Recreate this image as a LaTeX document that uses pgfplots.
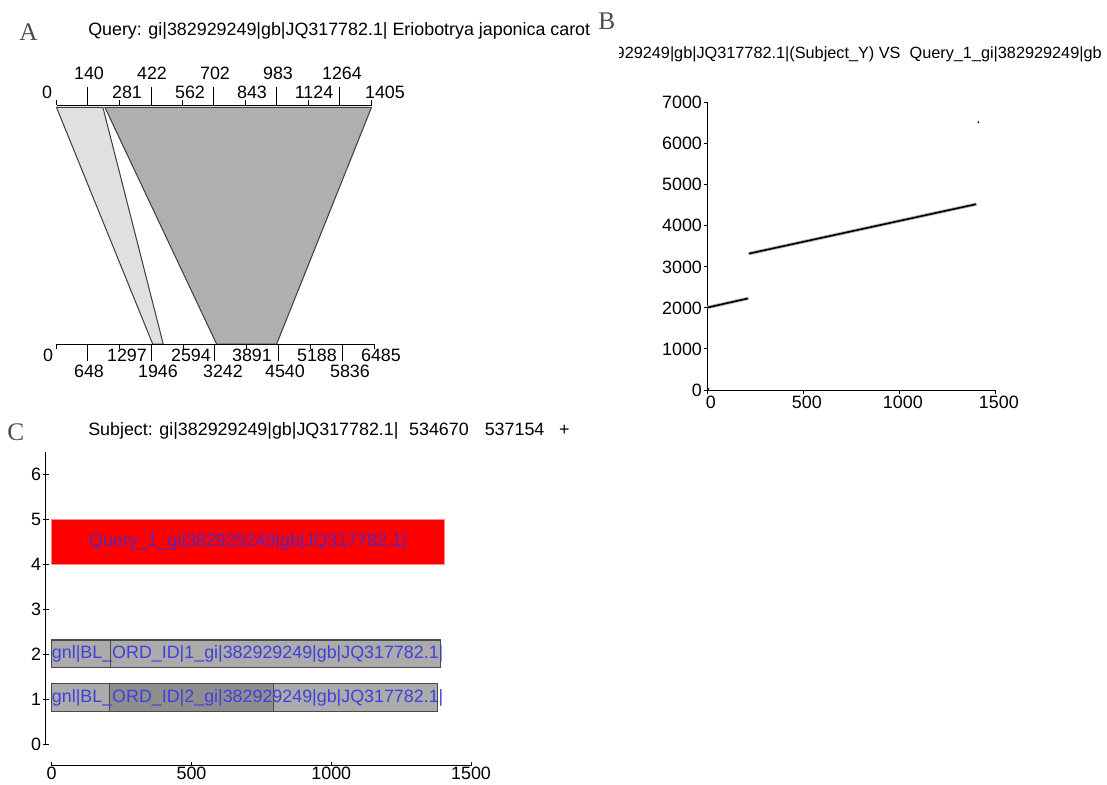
\documentclass[border=0pt]{standalone}
\usepackage{pgfplots}
\pgfplotsset{compat=1.18}
\usepackage{fontspec}
\setmainfont{Liberation Sans}
\newfontfamily\letterfont{Liberation Serif}
\definecolor{lightpoly}{HTML}{E0E0E0}
\definecolor{darkpoly}{HTML}{AFAFAF}
\definecolor{polyedge}{HTML}{3C3C3C}
\definecolor{barlight}{HTML}{ABABAB}
\definecolor{bardark}{HTML}{8E8E8E}
\definecolor{baredge}{HTML}{4A4A4A}
\definecolor{labelblue}{HTML}{4040DD}
\definecolor{labelpurple}{HTML}{5028C0}
\newcommand\f{\fontsize{13.4}{16}\selectfont}
\pgfplotsset{every axis/.append style={scale only axis, font=\f,
  /pgf/number format/assume math mode=true, /pgf/number format/1000 sep={},
  scaled ticks=false, axis line style={line width=0.75pt, black},
  tick style={line width=0.75pt, black}, clip=false}}
\begin{document}
\begin{tikzpicture}[x=0.75pt,y=-0.75pt]
\useasboundingbox (0,0) rectangle (1107,785);
\coordinate (pA1) at (56.5,344);
\coordinate (pA2) at (56,344);
\coordinate (pB) at (707.5,390);
\coordinate (pC1) at (45.7,744.5);
\coordinate (pC2) at (51.7,765.7);
% ---------------- Panel A ----------------
\node[anchor=base west, inner sep=0, text=black!70, font=\letterfont\fontsize{19}{20}\selectfont] at (19,40) {A};
\node[anchor=base west, inner sep=0, font=\f] at (88,36) {Query: gi|382929249|gb|JQ317782.1| Eriobotrya japonica carot};
\begin{axis}[at={(pA1)}, anchor=south west, width=236.25pt, height=179.25pt,
  xmin=0, xmax=1405, ymin=0, ymax=1, axis x line*=top, axis y line=none,
  tick align=outside, xtick={0,281,562,843,1124,1405}, extra x ticks={140,422,702,983,1264},
  xticklabels={}, extra x tick labels={}, major tick length=3.75pt, extra tick style={major tick length=13.5pt}]
\addplot[fill=lightpoly, draw=polyedge, line width=0.75pt] coordinates {(0,0.99) (207,0.99) (476,0) (429,0)} -- cycle;
\addplot[fill=darkpoly, draw=polyedge, line width=0.75pt] coordinates {(216,0.99) (1405,0.99) (982,0) (714,0)} -- cycle;
\end{axis}
\begin{axis}[at={(pA2)}, anchor=south west, width=238.5pt, height=179.25pt,
  xmin=0, xmax=6485, ymin=0, ymax=1, axis x line*=bottom, axis y line=none,
  tick align=outside, xtick={0,1297,2594,3891,5188,6485}, extra x ticks={648,1946,3242,4540,5836},
  xticklabels={}, extra x tick labels={}, major tick length=3.75pt, extra tick style={major tick length=12.75pt}]
\end{axis}
\begin{scope}[every node/.style={font=\f, inner sep=0}]
\node at (89,73) {140}; \node at (152,73) {422}; \node at (215,73) {702};
\node at (278,73) {983}; \node at (342,73) {1264};
\node at (47,92) {0}; \node at (127,92) {281}; \node at (190,92) {562};
\node at (252,92) {843}; \node at (314,92) {1124}; \node at (385,92) {1405};
\node at (48,355) {0}; \node at (127,355) {1297}; \node at (191,355) {2594};
\node at (252,355) {3891}; \node at (317,355) {5188}; \node at (381,355) {6485};
\node at (89,371) {648}; \node at (158,371) {1946}; \node at (223,371) {3242};
\node at (285,371) {4540}; \node at (350,371) {5836};
\end{scope}
% ---------------- Panel B ----------------
\node[anchor=base west, inner sep=0, text=black!70, font=\letterfont\fontsize{19}{20}\selectfont] at (598,29) {B};
\begin{scope}
\clip (619,40) rectangle (1107,70);
\node[anchor=base east, inner sep=0, font=\fontsize{12.2}{14}\selectfont] at (1102,58) {gi|382929249|gb|JQ317782.1|(Subject\_Y) VS\ \ Query\_1\_gi|382929249|gb};
\end{scope}
\begin{axis}[at={(pB)}, anchor=south west, width=216pt, height=215.5pt,
  xmin=0, xmax=1500, ymin=0, ymax=7000, axis x line*=bottom, axis y line*=left,
  xtick={0,500,1000,1500}, ytick={0,1000,2000,3000,4000,5000,6000,7000},
  tick align=outside, major tick length=3pt,
  xticklabel style={xshift=2.5pt, inner sep=1pt}, yticklabel style={inner sep=1pt}]
\addplot[gray!55, line width=2.6pt] coordinates {(0,2010) (212,2232)};
\addplot[black, line width=1.2pt] coordinates {(0,2010) (212,2232)};
\addplot[gray!55, line width=2.6pt] coordinates {(215,3322) (1400,4528)};
\addplot[black, line width=1.2pt] coordinates {(215,3322) (1400,4528)};
\addplot[only marks, mark=*, mark size=0.45pt, black] coordinates {(1411,6523) (5,30)};
\end{axis}
% ---------------- Panel C ----------------
\node[anchor=base west, inner sep=0, text=black!70, font=\letterfont\fontsize{19}{20}\selectfont] at (7,440) {C};
\node[anchor=base west, inner sep=0, font=\f] at (88,435) {Subject: gi|382929249|gb|JQ317782.1|\hspace{8pt}534670\hspace{12pt}537154\hspace{11pt}+};
\begin{axis}[at={(pC1)}, anchor=south west, width=319pt, height=219.4pt,
  xmin=-21.5, xmax=1500, ymin=0, ymax=6.5, axis y line*=left, axis x line=none,
  ytick={0,1,2,3,4,5,6}, tick align=center, major tick length=4.5pt,
  yticklabel style={inner sep=1pt}]
\addplot[fill=red, draw=red!45!white, line width=0.6pt] coordinates {(0,4) (1405,4) (1405,5) (0,5)} -- cycle;
\addplot[fill=barlight, draw=baredge, line width=0.9pt] coordinates {(0,1.72) (209,1.72) (209,2.32) (0,2.32)} -- cycle;
\addplot[fill=barlight, draw=baredge, line width=0.9pt] coordinates {(209,1.72) (1392,1.72) (1392,2.32) (209,2.32)} -- cycle;
\addplot[fill=barlight, draw=baredge, line width=0.9pt] coordinates {(0,0.74) (206,0.74) (206,1.36) (0,1.36)} -- cycle;
\addplot[fill=bardark, draw=baredge, line width=0.9pt] coordinates {(206,0.74) (793,0.74) (793,1.36) (206,1.36)} -- cycle;
\addplot[fill=barlight, draw=baredge, line width=0.9pt] coordinates {(793,0.74) (1380,0.74) (1380,1.36) (793,1.36)} -- cycle;
\node[text=labelpurple, inner sep=0, font=\f] at (axis cs:702,4.5) {Query\_1\_gi|382929249|gb|JQ317782.1|};
\node[text=labelblue, anchor=west, inner sep=0, font=\f] at (axis cs:0,2.02) {gnl|BL\_ORD\_ID|1\_gi|382929249|gb|JQ317782.1|};
\node[text=labelblue, anchor=west, inner sep=0, font=\f] at (axis cs:0,1.04) {gnl|BL\_ORD\_ID|2\_gi|382929249|gb|JQ317782.1|};
\end{axis}
\begin{axis}[at={(pC2)}, anchor=south west, width=314.5pt, height=10pt,
  xmin=0, xmax=1500, ymin=0, ymax=1, axis x line*=bottom, axis y line=none,
  xtick={0,500,1000,1500}, tick align=inside, major tick length=3pt,
  xticklabel style={inner sep=1pt}]
\end{axis}
\end{tikzpicture}
\end{document}
